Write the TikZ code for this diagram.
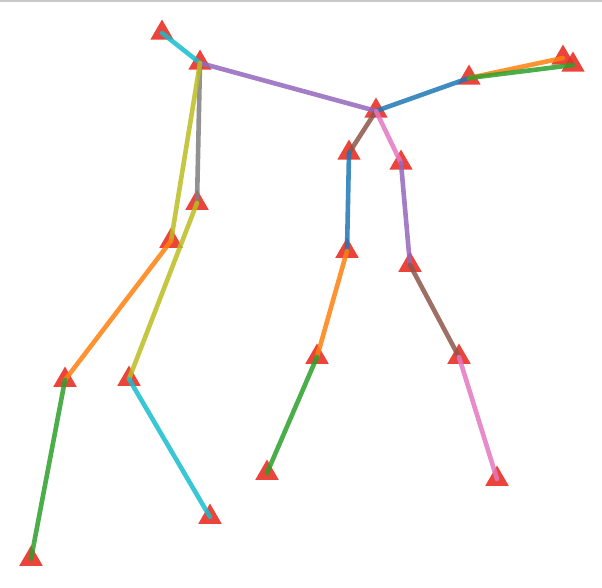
\documentclass[tikz,border=0pt]{standalone}
\usetikzlibrary{shapes.geometric}
\begin{document}
\begin{tikzpicture}[x=1pt,y=-1pt,
  bone/.style={line width=4.6pt,line cap=round,draw opacity=0.85},
  mk/.style={regular polygon,regular polygon sides=3,fill=mkred,fill opacity=0.9,inner sep=0pt,minimum size=27pt},
  pt/.style={coordinate}]
\definecolor{tcyan}{HTML}{17BECF}
\definecolor{tpurple}{HTML}{9467BD}
\definecolor{tblue}{HTML}{1F77B4}
\definecolor{torange}{HTML}{FF7F0E}
\definecolor{tgreen}{HTML}{2CA02C}
\definecolor{tbrown}{HTML}{8C564B}
\definecolor{tpink}{HTML}{E377C2}
\definecolor{tgray}{HTML}{7F7F7F}
\definecolor{tolive}{HTML}{BCBD22}
\definecolor{mkred}{RGB}{232,48,38}
\definecolor{frame}{RGB}{200,200,200}
\useasboundingbox (0,0) rectangle (602,588);
\fill[white] (0,0) rectangle (602,588);
\coordinate (f1) at (0,1);
\coordinate (f2) at (602,1);
\draw[frame,line width=2.4pt] (f1) -- (f2);
\coordinate (A) at (162,33);
\coordinate (B) at (200,63);
\coordinate (C) at (376,111);
\coordinate (D) at (469,78);
\coordinate (E) at (563,58);
\coordinate (F) at (573,65);
\coordinate (G) at (349,153);
\coordinate (H) at (401,163);
\coordinate (I) at (347,251);
\coordinate (J) at (410,265);
\coordinate (K) at (317,357);
\coordinate (L) at (459,357);
\coordinate (M) at (267,473);
\coordinate (N) at (497,479);
\coordinate (O) at (197,203);
\coordinate (P) at (171,241);
\coordinate (Q) at (65,380);
\coordinate (R) at (129,379);
\coordinate (S) at (31,559);
\coordinate (T) at (210,517);
\foreach \p in {A,B,C,D,E,F,G,H,I,J,K,L,M,N,O,P,Q,R,S,T}
  \node[mk] (m\p) at (\p) {};
\draw[bone,tcyan] (A) -- (B);
\draw[bone,tpurple] (B) -- (C);
\draw[bone,tblue] (C) -- (D);
\draw[bone,torange] (D) -- (E);
\draw[bone,tgreen] (D) -- (F);
\draw[bone,tbrown] (C) -- (G);
\draw[bone,tpink] (C) -- (H);
\draw[bone,tblue] (G) -- (I);
\draw[bone,tpurple] (H) -- (J);
\draw[bone,torange] (I) -- (K);
\draw[bone,tbrown] (J) -- (L);
\draw[bone,tgreen] (K) -- (M);
\draw[bone,tpink] (L) -- (N);
\draw[bone,tgray] (B) -- (O);
\draw[bone,tolive] (B) -- (P);
\draw[bone,tolive] (O) -- (R);
\draw[bone,torange] (P) -- (Q);
\draw[bone,tgreen] (Q) -- (S);
\draw[bone,tcyan] (R) -- (T);
\end{tikzpicture}
\end{document}
